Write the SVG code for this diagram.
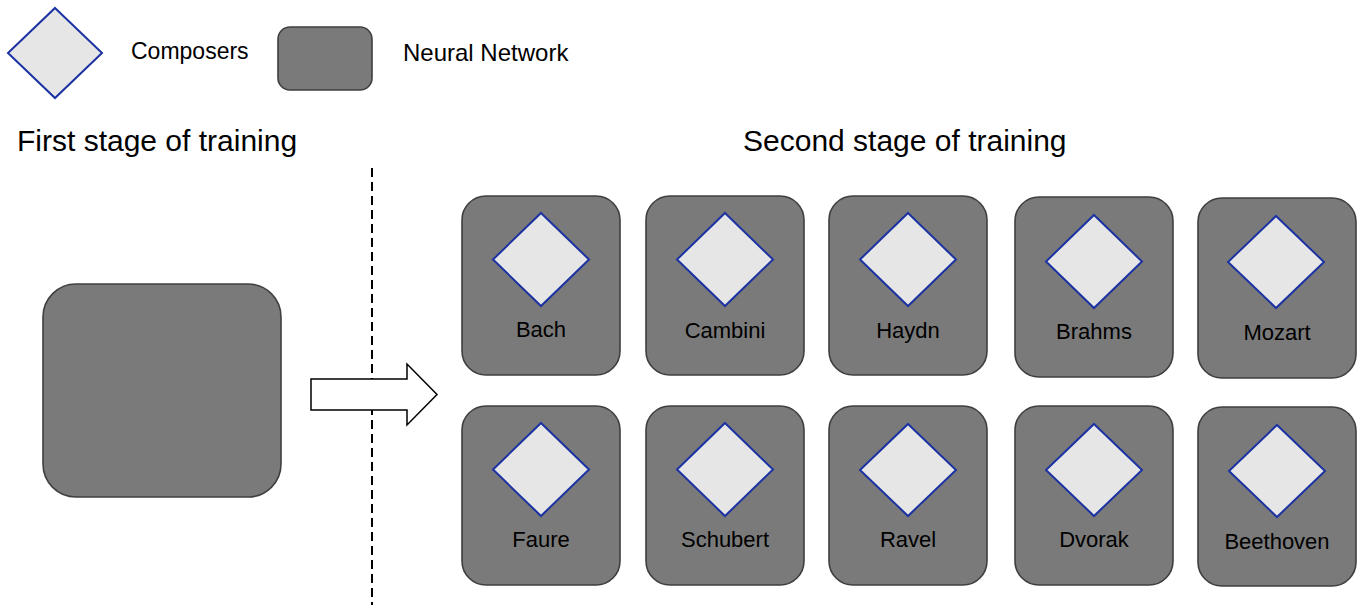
<svg xmlns="http://www.w3.org/2000/svg" width="1360" height="607" viewBox="0 0 1360 607">
<style>
.nn{fill:#7a7a7a;stroke:#3f3f3f;stroke-width:1.6}
.cp{fill:#e6e6e6;stroke:#1c32a3;stroke-width:2}
.lbl{font-family:"Liberation Sans",Arial,sans-serif;font-size:22px;fill:#000;text-anchor:middle}
.leg{font-family:"Liberation Sans",Arial,sans-serif;font-size:23px;fill:#000}
.ttl{font-family:"Liberation Sans",Arial,sans-serif;font-size:30px;fill:#000}
</style>
<rect width="1360" height="607" fill="#fff"/>
<g id="legend">
<polygon class="cp" points="55,8 102,53 55,98 8,53"/>
<text class="leg" x="131" y="59">Composers</text>
<rect class="nn" x="278" y="27" width="94" height="63" rx="12"/>
<text class="leg" x="403" y="61" style="font-size:24px">Neural Network</text>
</g>
<g id="titles">
<text class="ttl" x="17" y="151">First stage of training</text>
<text class="ttl" x="743" y="151">Second stage of training</text>
</g>
<g id="connectors">
<line x1="372" y1="168" x2="372" y2="605" stroke="#000" stroke-width="2" stroke-dasharray="9,5"/>
<polygon points="311,379 407,379 407,364 437,394.5 407,425 407,410 311,410" fill="#fff" stroke="#000" stroke-width="1.5"/>
</g>
<g id="first-network">
<rect class="nn" x="43" y="284" width="238" height="213" rx="33"/>
</g>
<g id="bach"><rect class="nn" x="462" y="196" width="158" height="179" rx="24"/><polygon class="cp" points="541,213 589,259.5 541,306 493,259.5"/><text class="lbl" x="541" y="337">Bach</text></g>
<g id="cambini"><rect class="nn" x="646" y="196" width="158" height="179" rx="24"/><polygon class="cp" points="725,213 773,259.5 725,306 677,259.5"/><text class="lbl" x="725" y="338">Cambini</text></g>
<g id="haydn"><rect class="nn" x="829" y="196" width="158" height="179" rx="24"/><polygon class="cp" points="908,213 956,259.5 908,306 860,259.5"/><text class="lbl" x="908" y="338">Haydn</text></g>
<g id="brahms"><rect class="nn" x="1015" y="197" width="158" height="180" rx="24"/><polygon class="cp" points="1094,215 1142,261.5 1094,308 1046,261.5"/><text class="lbl" x="1094" y="339">Brahms</text></g>
<g id="mozart"><rect class="nn" x="1198" y="198" width="158" height="180" rx="24"/><polygon class="cp" points="1276,216 1324,262 1276,308 1228,262"/><text class="lbl" x="1277" y="340">Mozart</text></g>
<g id="faure"><rect class="nn" x="462" y="406" width="158" height="179" rx="24"/><polygon class="cp" points="541,423 589,469.5 541,516 493,469.5"/><text class="lbl" x="541" y="547">Faure</text></g>
<g id="schubert"><rect class="nn" x="646" y="406" width="158" height="179" rx="24"/><polygon class="cp" points="725,423 773,469.5 725,516 677,469.5"/><text class="lbl" x="725" y="547">Schubert</text></g>
<g id="ravel"><rect class="nn" x="829" y="406" width="158" height="179" rx="24"/><polygon class="cp" points="908,424 956,470 908,516 860,470"/><text class="lbl" x="908" y="547">Ravel</text></g>
<g id="dvorak"><rect class="nn" x="1015" y="406" width="158" height="179" rx="24"/><polygon class="cp" points="1094,424 1142,470 1094,516 1046,470"/><text class="lbl" x="1094" y="547">Dvorak</text></g>
<g id="beethoven"><rect class="nn" x="1198" y="407" width="158" height="179" rx="24"/><polygon class="cp" points="1277,425 1325,471 1277,517 1229,471"/><text class="lbl" x="1277" y="549">Beethoven</text></g>
</svg>
